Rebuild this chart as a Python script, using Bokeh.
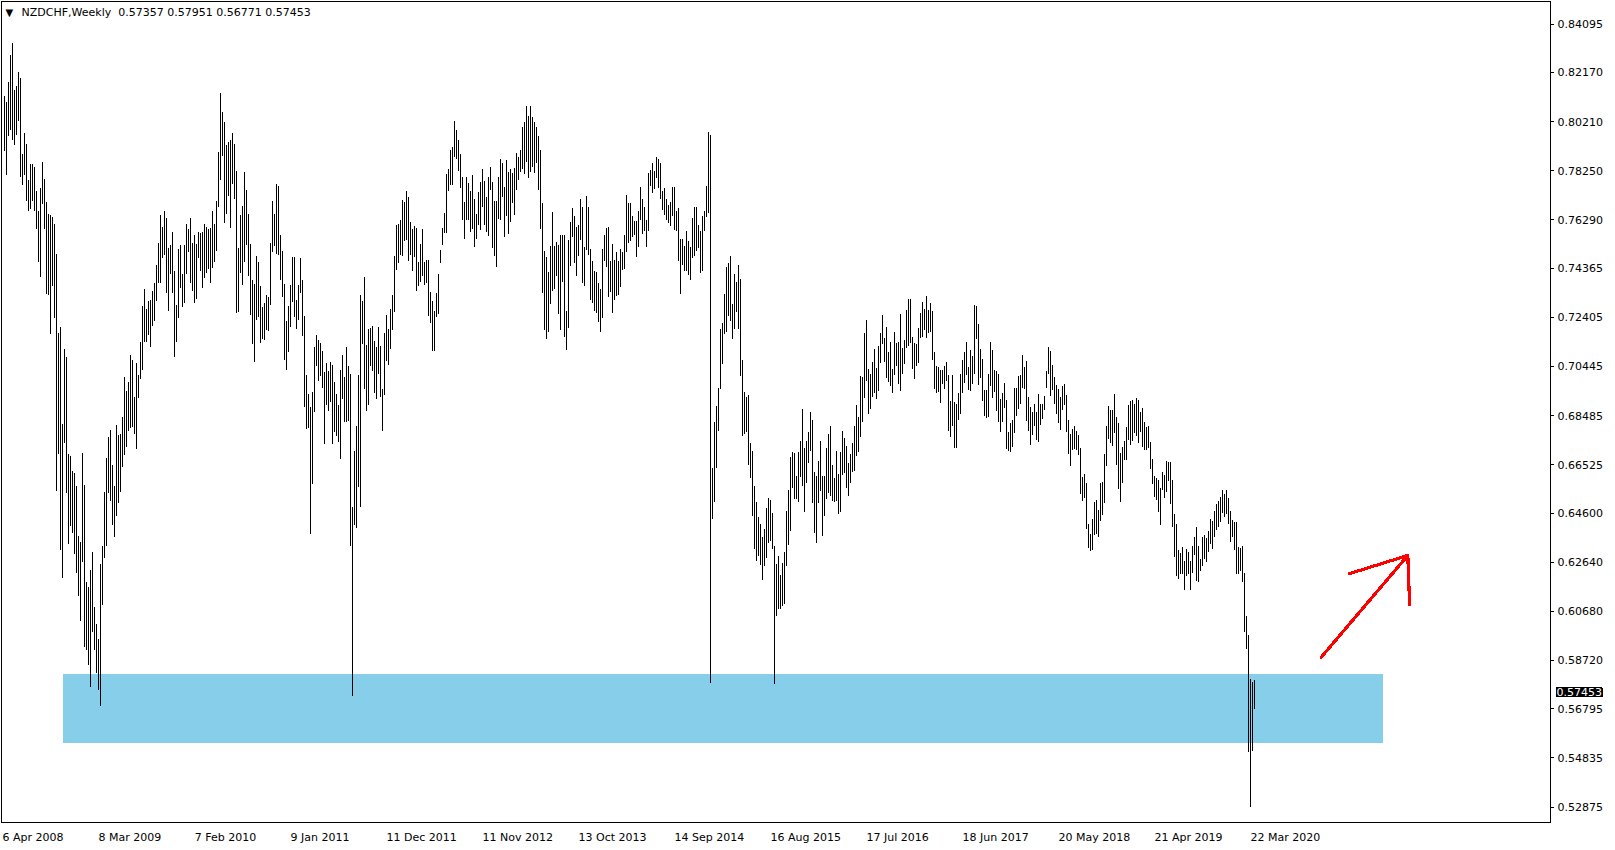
from bokeh.plotting import figure
from bokeh.models import (Range1d, FixedTicker, Label, PrintfTickFormatter, ColumnDataSource,
                          InlineStyleSheet)
from bokeh.embed import file_html
from bokeh.resources import INLINE

# ---------------- data (weekly NZDCHF bars) ----------------
symbol_text = "NZDCHF,Weekly\u00A0 0.57357 0.57951 0.56771 0.57453"
last_close = 0.57453

date_labels = ["6 Apr 2008", "8 Mar 2009", "7 Feb 2010", "9 Jan 2011", "11 Dec 2011",
               "11 Nov 2012", "13 Oct 2013", "14 Sep 2014", "16 Aug 2015", "17 Jul 2016",
               "18 Jun 2017", "20 May 2018", "21 Apr 2019", "22 Mar 2020"]
price_ticks = [0.84095, 0.82170, 0.80210, 0.78250, 0.76290, 0.74365, 0.72405, 0.70445,
               0.68485, 0.66525, 0.64600, 0.62640, 0.60680, 0.58720, 0.56795, 0.54835, 0.52875]

high_a = [0.8125, 0.8100, 0.8177, 0.8287, 0.8335, 0.8146, 0.8163, 0.8219, 0.8194, 0.7890,
          0.7975, 0.7933, 0.7788, 0.7853, 0.7853, 0.7839, 0.7745, 0.7665, 0.7757, 0.7860,
          0.7793, 0.7699, 0.7652, 0.7648, 0.7640, 0.7614, 0.7495, 0.7180, 0.7200, 0.6817,
          0.7115, 0.7083, 0.6697, 0.6689, 0.6629, 0.6621, 0.6566, 0.6370, 0.6345, 0.6701,
          0.6571, 0.6186, 0.6166, 0.6234, 0.6306, 0.6084, 0.6016, 0.5956, 0.6256, 0.6328,
          0.6544, 0.6680, 0.6762, 0.6791, 0.6651, 0.6566, 0.6813, 0.6771, 0.6774, 0.6842,
          0.7001, 0.6945, 0.6984, 0.7091, 0.7072, 0.6921, 0.7057, 0.7009, 0.7141, 0.7285,
          0.7355, 0.7272, 0.7304, 0.7311, 0.7347, 0.7379, 0.7449, 0.7538, 0.7647, 0.7602,
          0.7665, 0.7635, 0.7515, 0.7529, 0.7580, 0.7425, 0.7290, 0.7512, 0.7529, 0.7413,
          0.7529, 0.7614, 0.7594, 0.7636, 0.7536, 0.7567, 0.7532, 0.7580, 0.7577, 0.7580,
          0.7613, 0.7602, 0.7594, 0.7597]
low_a = [0.7904, 0.7810, 0.7964, 0.7989, 0.7947, 0.7929, 0.7969, 0.8023, 0.7802, 0.7768,
         0.7807, 0.7703, 0.7665, 0.7674, 0.7703, 0.7665, 0.7592, 0.7461, 0.7401, 0.7694,
         0.7592, 0.7333, 0.7330, 0.7175, 0.7364, 0.7239, 0.6548, 0.6694, 0.6314, 0.6200,
         0.6740, 0.6541, 0.6336, 0.6408, 0.6382, 0.6297, 0.6220, 0.6128, 0.6029, 0.6265,
         0.5924, 0.5915, 0.5854, 0.5765, 0.5987, 0.5915, 0.5822, 0.5753, 0.5692, 0.6093,
         0.6280, 0.6328, 0.6541, 0.6507, 0.6413, 0.6365, 0.6447, 0.6502, 0.6544, 0.6643,
         0.6691, 0.6723, 0.6788, 0.6800, 0.6805, 0.6774, 0.6716, 0.6919, 0.6996, 0.7030,
         0.7142, 0.7142, 0.7171, 0.7123, 0.7205, 0.7226, 0.7307, 0.7379, 0.7379, 0.7478,
         0.7490, 0.7336, 0.7265, 0.7415, 0.7336, 0.7083, 0.7144, 0.7239, 0.7359, 0.7280,
         0.7296, 0.7413, 0.7503, 0.7379, 0.7347, 0.7296, 0.7313, 0.7478, 0.7427, 0.7357,
         0.7396, 0.7417, 0.7435, 0.7379]

high_b = [0.7663, 0.7613, 0.7706, 0.7899, 0.8136, 0.8061, 0.8021, 0.7926, 0.7939, 0.7946,
          0.7976, 0.7930, 0.7826, 0.7516, 0.7647, 0.7683, 0.7822, 0.7750, 0.7651, 0.7534,
          0.7391, 0.7374, 0.7487, 0.7463, 0.7364, 0.7281, 0.7298, 0.7330, 0.7321, 0.7536,
          0.7706, 0.7651, 0.7773, 0.7766, 0.7567, 0.7507, 0.7374, 0.7224, 0.7285, 0.7371,
          0.7480, 0.7480, 0.7308, 0.7370, 0.7477, 0.7391, 0.7245, 0.7009, 0.6933, 0.6882,
          0.6942, 0.7122, 0.7172, 0.7151, 0.7139, 0.7108, 0.7022, 0.7059, 0.7025, 0.7062,
          0.7051, 0.6982, 0.6933, 0.6892, 0.7032, 0.7092, 0.7002, 0.7122, 0.7046, 0.7015,
          0.6483, 0.6707, 0.6806, 0.7009, 0.7328, 0.7305, 0.7401, 0.7132, 0.7195, 0.7199,
          0.7205, 0.7148, 0.7122, 0.7201, 0.7126, 0.6955, 0.7179, 0.7248, 0.7195, 0.7272,
          0.7328, 0.7487, 0.7609, 0.7613, 0.7627, 0.7710, 0.7700, 0.7746, 0.7720, 0.7620,
          0.7593, 0.7604, 0.7597, 0.7463, 0.7531]
low_b = [0.7437, 0.7463, 0.7504, 0.7682, 0.7790, 0.7882, 0.7616, 0.7653, 0.7726, 0.7596,
         0.7773, 0.7713, 0.7258, 0.7261, 0.7418, 0.7370, 0.7461, 0.7530, 0.7405, 0.7250,
         0.7135, 0.7062, 0.7228, 0.7241, 0.7139, 0.7155, 0.7152, 0.7188, 0.7185, 0.7290,
         0.7503, 0.7524, 0.7494, 0.7491, 0.7390, 0.7321, 0.7071, 0.7031, 0.7102, 0.7201,
         0.7301, 0.7241, 0.7195, 0.7228, 0.7337, 0.7165, 0.6882, 0.6796, 0.6799, 0.6377,
         0.6577, 0.6862, 0.7046, 0.6986, 0.7006, 0.6959, 0.6736, 0.6892, 0.6866, 0.6902,
         0.6736, 0.6783, 0.6769, 0.6743, 0.6676, 0.6916, 0.6822, 0.6822, 0.6826, 0.6330,
         0.5730, 0.6413, 0.6401, 0.6563, 0.6483, 0.7135, 0.6953, 0.6866, 0.6889, 0.7046,
         0.7026, 0.6939, 0.6916, 0.7015, 0.6922, 0.6787, 0.6929, 0.7068, 0.7052, 0.7115,
         0.7191, 0.7261, 0.7430, 0.7457, 0.7491, 0.7487, 0.7544, 0.7550, 0.7467, 0.7490,
         0.7427, 0.7483, 0.7345, 0.7367, 0.7381]

high_c = [0.7591, 0.7463, 0.7471, 0.7471, 0.7341, 0.7304, 0.7264, 0.7337, 0.7414, 0.7511,
          0.7597, 0.7657, 0.7813, 0.7833, 0.7908, 0.7919, 0.8025, 0.7989, 0.7946, 0.7892,
          0.7802, 0.7700, 0.7802, 0.7775, 0.7746, 0.7810, 0.7713, 0.7653, 0.7740, 0.7779,
          0.7833, 0.7786, 0.7720, 0.7799, 0.7839, 0.7779, 0.7706, 0.7706, 0.7802, 0.7873,
          0.7855, 0.7760, 0.7866, 0.7819, 0.7833, 0.7815, 0.7837, 0.7895, 0.7879, 0.7906,
          0.8001, 0.8019, 0.8083, 0.8045, 0.8085, 0.8041, 0.8019, 0.7999, 0.7963, 0.7908,
          0.7697, 0.7507, 0.7480, 0.7421, 0.7523, 0.7662, 0.7523, 0.7539, 0.7527, 0.7569,
          0.7567, 0.7567, 0.7265, 0.7547, 0.7619, 0.7677, 0.7643, 0.7600, 0.7607, 0.7712,
          0.7680, 0.7520, 0.7726, 0.7680, 0.7514, 0.7467, 0.7427, 0.7421, 0.7378, 0.7355,
          0.7514, 0.7567, 0.7597, 0.7600, 0.7467, 0.7534, 0.7470, 0.7500, 0.7467, 0.7514,
          0.7500, 0.7569]
low_c = [0.7405, 0.7371, 0.7378, 0.7245, 0.7218, 0.7108, 0.7108, 0.7241, 0.7252, 0.7456,
         0.7527, 0.7576, 0.7576, 0.7744, 0.7770, 0.7770, 0.7879, 0.7873, 0.7826, 0.7756,
         0.7627, 0.7553, 0.7627, 0.7629, 0.7580, 0.7593, 0.7520, 0.7553, 0.7607, 0.7587,
         0.7680, 0.7607, 0.7580, 0.7564, 0.7749, 0.7518, 0.7487, 0.7440, 0.7633, 0.7627,
         0.7722, 0.7560, 0.7646, 0.7573, 0.7620, 0.7696, 0.7650, 0.7749, 0.7789, 0.7819,
         0.7833, 0.7813, 0.7859, 0.7797, 0.7819, 0.7839, 0.7815, 0.7855, 0.7749, 0.7593,
         0.7337, 0.7188, 0.7155, 0.7181, 0.7294, 0.7345, 0.7354, 0.7407, 0.7254, 0.7188,
         0.7381, 0.7161, 0.7111, 0.7197, 0.7447, 0.7560, 0.7456, 0.7406, 0.7487, 0.7547,
         0.7377, 0.7367, 0.7511, 0.7491, 0.7310, 0.7298, 0.7264, 0.7257, 0.7221, 0.7184,
         0.7237, 0.7464, 0.7440, 0.7321, 0.7342, 0.7258, 0.7310, 0.7325, 0.7330, 0.7361,
         0.7431, 0.7434]

high_d = [0.7728, 0.7695, 0.7698, 0.7646, 0.7624, 0.7623, 0.7666, 0.7759, 0.7714, 0.7681,
          0.7627, 0.7818, 0.7830, 0.7854, 0.7825, 0.7878, 0.7872, 0.7854, 0.7743, 0.7757,
          0.7711, 0.7689, 0.7702, 0.7759, 0.7759, 0.7663, 0.7675, 0.7551, 0.7554, 0.7525,
          0.7583, 0.7543, 0.7522, 0.7638, 0.7682, 0.7680, 0.7609, 0.7586, 0.7646, 0.7666,
          0.7765, 0.7978, 0.7966, 0.6641, 0.6825, 0.6888, 0.6960, 0.7192, 0.7218, 0.7334,
          0.7443, 0.7456, 0.7486, 0.7293, 0.7414, 0.7383, 0.7450, 0.7392, 0.7069, 0.6941,
          0.6921, 0.6931, 0.6740, 0.6709, 0.6569, 0.6503, 0.6443, 0.6416, 0.6363, 0.6395,
          0.6479, 0.6522, 0.6514, 0.6460, 0.6327, 0.6257, 0.6290, 0.6213, 0.6260, 0.6303,
          0.6470, 0.6550, 0.6682, 0.6702, 0.6699, 0.6609, 0.6702, 0.6746, 0.6876, 0.6718,
          0.6746, 0.6783, 0.6863, 0.6833, 0.6624, 0.6609, 0.6667, 0.6746, 0.6608, 0.6609,
          0.6718, 0.6776, 0.6808, 0.6653, 0.6598]
low_d = [0.7501, 0.7536, 0.7543, 0.7559, 0.7569, 0.7480, 0.7522, 0.7627, 0.7573, 0.7583,
         0.7521, 0.7583, 0.7765, 0.7738, 0.7754, 0.7798, 0.7756, 0.7712, 0.7670, 0.7649,
         0.7627, 0.7617, 0.7605, 0.7646, 0.7588, 0.7583, 0.7465, 0.7333, 0.7449, 0.7424,
         0.7427, 0.7409, 0.7388, 0.7478, 0.7486, 0.7507, 0.7518, 0.7417, 0.7424, 0.7583,
         0.7641, 0.7656, 0.5782, 0.6438, 0.6503, 0.6641, 0.6786, 0.6953, 0.7054, 0.7173,
         0.7182, 0.7246, 0.7225, 0.7153, 0.7192, 0.7260, 0.7192, 0.7006, 0.6769, 0.6776,
         0.6782, 0.6651, 0.6598, 0.6448, 0.6315, 0.6267, 0.6290, 0.6253, 0.6192, 0.6247,
         0.6279, 0.6340, 0.6347, 0.6315, 0.5779, 0.6051, 0.6076, 0.6076, 0.6090, 0.6098,
         0.6247, 0.6332, 0.6390, 0.6561, 0.6518, 0.6518, 0.6506, 0.6605, 0.6569, 0.6463,
         0.6580, 0.6658, 0.6706, 0.6499, 0.6380, 0.6340, 0.6499, 0.6547, 0.6369, 0.6450,
         0.6515, 0.6540, 0.6528, 0.6508, 0.6506]

high_e = [0.6709, 0.6614, 0.6703, 0.6789, 0.6760, 0.6727, 0.6659, 0.6696, 0.6740, 0.6809,
          0.6889, 0.6842, 0.7005, 0.7002, 0.7179, 0.7228, 0.7033, 0.7015, 0.7062, 0.7115,
          0.7038, 0.7128, 0.7179, 0.7248, 0.7157, 0.7200, 0.7104, 0.7141, 0.7033, 0.7184,
          0.7140, 0.7144, 0.7255, 0.7118, 0.7151, 0.7270, 0.7312, 0.7312, 0.7164, 0.7138,
          0.7135, 0.7197, 0.7257, 0.7301, 0.7274, 0.7324, 0.7268, 0.7298, 0.7264, 0.7104,
          0.7048, 0.7044, 0.7031, 0.7031, 0.7048, 0.7062, 0.7011, 0.6905, 0.7009, 0.6902,
          0.6896, 0.6939, 0.7013, 0.7071, 0.7104, 0.7141, 0.7044, 0.7112, 0.7088, 0.7288,
          0.7284, 0.7215, 0.7115, 0.7075, 0.6951, 0.6951, 0.7013, 0.7141, 0.7112, 0.7031,
          0.7028, 0.7015, 0.6916, 0.6938, 0.6978, 0.6909, 0.6785, 0.6820, 0.6832, 0.6958,
          0.6958, 0.7005, 0.7009, 0.7092, 0.7044, 0.7066, 0.6922, 0.6882, 0.6862, 0.6896,
          0.6862, 0.6933, 0.6896, 0.6893, 0.6925]
low_e = [0.6510, 0.6457, 0.6464, 0.6610, 0.6619, 0.6561, 0.6527, 0.6579, 0.6623, 0.6627,
         0.6687, 0.6703, 0.6763, 0.6822, 0.6918, 0.6985, 0.6856, 0.6876, 0.6922, 0.6938,
         0.6916, 0.6946, 0.7058, 0.7135, 0.7062, 0.6998, 0.6982, 0.6965, 0.6938, 0.7009,
         0.7046, 0.6973, 0.6946, 0.7013, 0.7055, 0.7118, 0.7128, 0.7138, 0.7035, 0.6993,
         0.7046, 0.7058, 0.7157, 0.7161, 0.7188, 0.7157, 0.7179, 0.7181, 0.7072, 0.6953,
         0.6938, 0.6942, 0.6898, 0.6973, 0.6955, 0.6986, 0.6789, 0.6763, 0.6809, 0.6719,
         0.6719, 0.6832, 0.6856, 0.6938, 0.6978, 0.7009, 0.6949, 0.6946, 0.6975, 0.7013,
         0.7155, 0.6971, 0.6998, 0.6906, 0.6849, 0.6840, 0.6842, 0.6965, 0.6918, 0.6942,
         0.6866, 0.6822, 0.6783, 0.6822, 0.6880, 0.6716, 0.6709, 0.6705, 0.6723, 0.6780,
         0.6849, 0.6876, 0.6893, 0.6959, 0.6955, 0.6829, 0.6787, 0.6732, 0.6773, 0.6807,
         0.6753, 0.6743, 0.6812, 0.6836, 0.6869]

high_f = [0.7028, 0.7122, 0.7106, 0.7050, 0.7002, 0.6969, 0.6955, 0.6922, 0.6965, 0.6975,
          0.6929, 0.6832, 0.6776, 0.6796, 0.6809, 0.6789, 0.6773, 0.6720, 0.6603, 0.6614,
          0.6581, 0.6417, 0.6375, 0.6437, 0.6506, 0.6513, 0.6473, 0.6579, 0.6583, 0.6696,
          0.6809, 0.6885, 0.6869, 0.6872, 0.6935, 0.6845, 0.6820, 0.6699, 0.6725, 0.6749,
          0.6803, 0.6889, 0.6905, 0.6909, 0.6896, 0.6919, 0.6912, 0.6862, 0.6878, 0.6825,
          0.6805, 0.6809, 0.6743, 0.6676, 0.6606, 0.6599, 0.6590, 0.6559, 0.6623, 0.6612,
          0.6667, 0.6663, 0.6663, 0.6590, 0.6457, 0.6417, 0.6313, 0.6301, 0.6324, 0.6268,
          0.6315, 0.6304, 0.6268, 0.6327, 0.6364, 0.6404, 0.6327, 0.6278, 0.6364, 0.6371,
          0.6361, 0.6390, 0.6437, 0.6430, 0.6470, 0.6497, 0.6510, 0.6523, 0.6550, 0.6537,
          0.6550, 0.6521, 0.6470, 0.6434, 0.6424, 0.6424, 0.6324, 0.6321, 0.6327, 0.6220,
          0.6051, 0.5972, 0.5799, 0.5786, 0.5795]
low_f = [0.6958, 0.7013, 0.6925, 0.6951, 0.6896, 0.6856, 0.6818, 0.6792, 0.6869, 0.6889,
         0.6783, 0.6696, 0.6647, 0.6713, 0.6716, 0.6710, 0.6690, 0.6534, 0.6507, 0.6519,
         0.6397, 0.6320, 0.6307, 0.6311, 0.6373, 0.6375, 0.6364, 0.6430, 0.6454, 0.6499,
         0.6646, 0.6756, 0.6739, 0.6729, 0.6779, 0.6650, 0.6554, 0.6503, 0.6579, 0.6670,
         0.6672, 0.6752, 0.6733, 0.6749, 0.6779, 0.6767, 0.6740, 0.6783, 0.6725, 0.6712,
         0.6712, 0.6720, 0.6634, 0.6574, 0.6526, 0.6513, 0.6464, 0.6414, 0.6550, 0.6519,
         0.6543, 0.6587, 0.6497, 0.6404, 0.6284, 0.6207, 0.6198, 0.6215, 0.6218, 0.6155,
         0.6208, 0.6215, 0.6155, 0.6222, 0.6291, 0.6191, 0.6184, 0.6227, 0.6248, 0.6277,
         0.6264, 0.6304, 0.6337, 0.6317, 0.6364, 0.6393, 0.6404, 0.6426, 0.6460, 0.6444,
         0.6457, 0.6417, 0.6344, 0.6366, 0.6311, 0.6218, 0.6215, 0.6227, 0.6184, 0.5985,
         0.5919, 0.5507, 0.5287, 0.5513, 0.5677]

# support zone (bar index / price) and hand-drawn arrow
zone_left, zone_right = 29.7, 689.6
zone_bottom, zone_top = 0.5541, 0.5817
arrow_x0 = [658.6, 701.9, 701.9]
arrow_y0 = [0.5885, 0.6291, 0.6291]
arrow_x1 = [701.9, 672.6, 702.8]
arrow_y1 = [0.6291, 0.6218, 0.6095]

# ---------------- assemble ----------------
highs = high_a + high_b + high_c + high_d + high_e + high_f
lows = low_a + low_b + low_c + low_d + low_e + low_f
n = min(len(highs), len(lows))
highs, lows = highs[:n], lows[:n]
idx = list(range(n))
src = ColumnDataSource(dict(x=idx, hi=highs, lo=lows))

FONT = "DejaVu Sans"
FRAME_W, FRAME_H = 1549, 821
PX_PER_PRICE = 2507.6           # vertical scale of the original chart
y_top = 0.8500
y_bottom = y_top - FRAME_H / PX_PER_PRICE
x0 = -1.25                      # 2 px per week, bars on pixel centres
x1 = x0 + FRAME_W / 2.0

p = figure(frame_width=FRAME_W, frame_height=FRAME_H, output_backend="svg", toolbar_location=None,
           x_range=Range1d(x0, x1), y_range=Range1d(y_bottom, y_top),
           y_axis_location="right",
           min_border_left=1, min_border_top=1, min_border_right=0, min_border_bottom=0)
p.background_fill_color = "white"
p.border_fill_color = "white"
p.outline_line_color = "black"
p.outline_line_width = 1
p.grid.visible = False
p.stylesheets = [InlineStyleSheet(css=":host { shape-rendering: crispEdges; }")]

# support zone underneath bars
p.quad(left=[zone_left], right=[zone_right], bottom=[zone_bottom], top=[zone_top],
       fill_color="#87CEEB", line_color=None)

# bars (high-low lines)
p.segment(x0="x", y0="lo", x1="x", y1="hi", source=src, line_color="black", line_width=1)

# arrow
p.segment(x0=arrow_x0, y0=arrow_y0, x1=arrow_x1, y1=arrow_y1,
          line_color="#FF0000", line_width=3.2, line_cap="round")

# y axis (right)
ya = p.yaxis[0]
ya.ticker = FixedTicker(ticks=price_ticks)
ya.formatter = PrintfTickFormatter(format="%.5f")
ya.major_label_text_font = FONT
ya.major_label_text_font_size = "11px"
ya.major_label_text_color = "black"
ya.major_tick_out = 3
ya.major_tick_in = 0
ya.minor_tick_out = 0
ya.minor_tick_in = 0
ya.major_label_standoff = 4
ya.axis_line_color = "black"
ya.major_tick_line_color = "black"

# x axis: date texts, shifted so each text starts at its dated bar (MT4 style)
tick_idx = [48 * k for k in range(len(date_labels))]
cw = {' ': 0.318, 'A': 0.684, 'p': 0.635, 'r': 0.411, 'M': 0.863, 'a': 0.613, 'F': 0.575,
      'e': 0.615, 'b': 0.635, 'J': 0.295, 'n': 0.634, 'D': 0.770, 'c': 0.550, 'N': 0.748,
      'o': 0.612, 'v': 0.592, 'O': 0.787, 't': 0.392, 'S': 0.635, 'u': 0.634, 'g': 0.635,
      'l': 0.278, 'y': 0.592}
label_pos = []
for t, lab in zip(tick_idx, date_labels):
    w_px = 11.0 * sum(cw.get(ch, 0.636) for ch in lab)
    label_pos.append(round(t + (w_px / 2.0 - 1.5) / 2.0, 2))
xb = p.xaxis[0]
xb.ticker = FixedTicker(ticks=label_pos)
xb.major_label_overrides = {lp: lab for lp, lab in zip(label_pos, date_labels)}
xb.major_tick_out = 0
xb.major_tick_in = 0
xb.minor_tick_out = 0
xb.minor_tick_in = 0
xb.axis_line_color = None
xb.major_tick_line_color = None
xb.minor_tick_line_color = None
xb.major_label_standoff = 0
xb.major_label_text_font = FONT
xb.major_label_text_font_size = "11px"
xb.major_label_text_color = "black"

# header
p.add_layout(Label(x=4, y=FRAME_H - 11, x_units="screen", y_units="screen", text="\u25BC",
                   text_align="left", text_baseline="middle", text_font=FONT,
                   text_font_size="10px", text_color="black"))
p.add_layout(Label(x=20, y=FRAME_H - 11, x_units="screen", y_units="screen", text=symbol_text,
                   text_align="left", text_baseline="middle", text_font=FONT,
                   text_font_size="11px", text_color="black"))

# current price tag on the price axis; kept in a side panel so it is not clipped to the frame
tag = Label(x=x1 + 3.0, y=last_close, x_units="data", y_units="data",
            text="%.5f" % last_close, text_align="left", text_baseline="middle",
            text_font=FONT, text_font_size="11px", text_color="white",
            background_fill_color="black", padding=0,
            border_line_color="black", border_line_width=2)
p.below = [tag, xb]

open("out.html", "w").write(file_html(p, INLINE))
